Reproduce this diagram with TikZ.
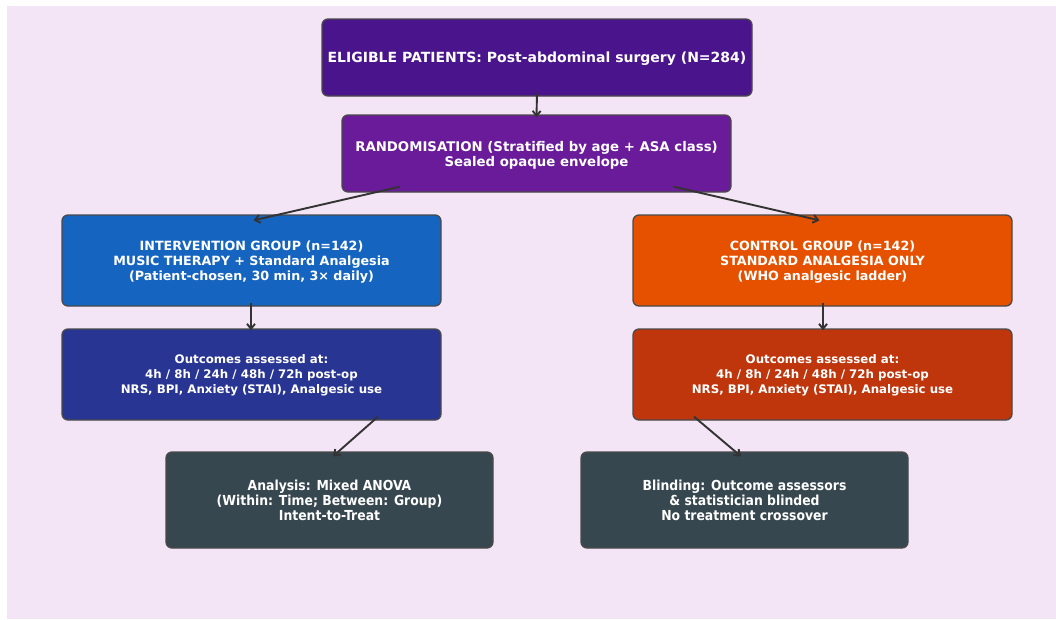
\documentclass[tikz,border=0pt]{standalone}
\usepackage{fontspec}
\setmainfont{DejaVu Sans}
\newfontfamily\condfont{DejaVu Sans Condensed}[BoldFont={DejaVu Sans Condensed Bold}]
\usetikzlibrary{arrows.meta}
\definecolor{bgc}{HTML}{F3E5F5}
\definecolor{c1}{HTML}{4A148C}
\definecolor{c2}{HTML}{6A1B9A}
\definecolor{c3}{HTML}{1565C0}
\definecolor{c4}{HTML}{E65100}
\definecolor{c5}{HTML}{283593}
\definecolor{c6}{HTML}{BF360C}
\definecolor{c7}{HTML}{37474F}
\definecolor{edge}{HTML}{4A4A4A}
\definecolor{arrc}{HTML}{333333}
\tikzset{
  box/.style={draw=edge, line width=1.3pt, rounded corners=6pt, text=white, align=center, inner sep=0pt, font=\bfseries},
  top/.style={font=\bfseries\fontsize{14}{15}\selectfont, text depth=0pt},
  big/.style={font=\bfseries\fontsize{13.3}{15}\selectfont, text depth=0pt},
  mid/.style={font=\bfseries\fontsize{12.7}{15}\selectfont, text depth=0pt},
  small/.style={font=\bfseries\fontsize{11.8}{15}\selectfont, text depth=0pt},
  cond/.style={font=\condfont\bfseries\fontsize{13.8}{15}\selectfont},
  arr/.style={draw=arrc, line width=1.9pt, -{Straight Barb[length=5pt,width=8pt]}}
}
\begin{document}
\begin{tikzpicture}[x=1pt,y=-1pt]
\useasboundingbox (0,0) rectangle (1056,619);
\fill[white] (0,0) rectangle (1056,619);
\fill[bgc] (7,6) rectangle (1056,619);
\node[box, top, fill=c1, minimum width=430pt, minimum height=77pt] (elig) at (537,57.5) {ELIGIBLE PATIENTS: Post-abdominal surgery (N=284)};
\node[box, big, fill=c2, minimum width=389pt, minimum height=77pt] (rand) at (536.5,153.5) {RANDOMISATION (Stratified by age + ASA class)\\Sealed opaque envelope};
\node[box, mid, fill=c3, minimum width=379pt, minimum height=91pt] (int) at (251.5,260.5) {INTERVENTION GROUP (n=142)\\MUSIC THERAPY + Standard Analgesia\\(Patient-chosen, 30 min, 3× daily)};
\node[box, mid, fill=c4, minimum width=379pt, minimum height=91pt] (ctl) at (822.5,260.5) {CONTROL GROUP (n=142)\\STANDARD ANALGESIA ONLY\\(WHO analgesic ladder)};
\node[box, small, fill=c5, minimum width=379pt, minimum height=91pt] (outl) at (251.5,374.5) {Outcomes assessed at:\\4h / 8h / 24h / 48h / 72h post-op\\NRS, BPI, Anxiety (STAI), Analgesic use};
\node[box, small, fill=c6, minimum width=379pt, minimum height=91pt] (outr) at (822.5,374.5) {Outcomes assessed at:\\4h / 8h / 24h / 48h / 72h post-op\\NRS, BPI, Anxiety (STAI), Analgesic use};
\node[box, cond, fill=c7, minimum width=327pt, minimum height=96pt] (ana) at (329.5,500) {Analysis: Mixed ANOVA\\(Within: Time; Between: Group)\\Intent-to-Treat};
\node[box, cond, fill=c7, minimum width=327pt, minimum height=96pt] (bli) at (744.5,500) {Blinding: Outcome assessors\\\& statistician blinded\\No treatment crossover};
\draw[arr] ([yshift=4pt]elig.south) -- ([yshift=-3pt]rand.north);
\draw[arr] ([xshift=-136.5pt,yshift=6pt]rand.south) -- ([xshift=2pt,yshift=-6pt]int.north);
\draw[arr] ([xshift=137pt,yshift=6pt]rand.south) -- ([xshift=-3pt,yshift=-6pt]ctl.north);
\draw[arr] ([xshift=-0.5pt,yshift=4pt]int.south) -- ([xshift=-0.5pt,yshift=-2pt]outl.north);
\draw[arr] ([xshift=0.5pt,yshift=4pt]ctl.south) -- ([xshift=0.5pt,yshift=-2pt]outr.north);
\draw[arr] ([xshift=126.5pt,yshift=4pt]outl.south) -- ([xshift=3.5pt,yshift=-5pt]ana.north);
\draw[arr] ([xshift=-128.5pt,yshift=4pt]outr.south) -- ([xshift=-3.5pt,yshift=-5pt]bli.north);
\end{tikzpicture}
\end{document}
